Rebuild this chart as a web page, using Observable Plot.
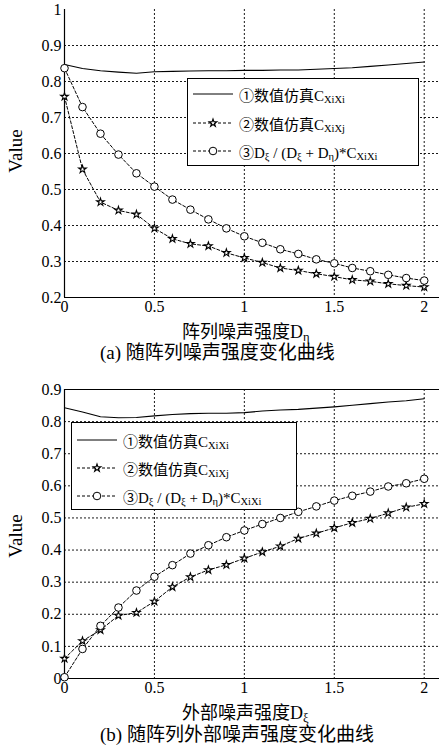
<!DOCTYPE html>
<html>
<head>
<meta charset="utf-8">
<script src="https://cdn.jsdelivr.net/npm/d3@7"></script>
<script src="https://cdn.jsdelivr.net/npm/@observablehq/plot@0.6"></script>
<style>
  body { margin: 0; background: #fff; }
  #wrap { position: relative; width: 439px; height: 756px; overflow: hidden; background: #fff;
          font-family: "Liberation Serif", "Times New Roman", "DejaVu Serif", "Noto Sans CJK SC", serif; color: #000; }
  .abs { position: absolute; white-space: nowrap; }
  .legend { position: absolute; background: #fff; border: 1px solid #000; box-sizing: border-box; }
  .row { position: absolute; left: 0; height: 20px; display: flex; align-items: center; white-space: nowrap; }
  .row svg { display: block; }
  .row span { font-size: 15px; margin-left: 6px; }
  sub { font-size: 0.7em; vertical-align: -0.2em; line-height: 0; }
  .xtitle { font-size: 18px; line-height: 18px; }
  .cap { font-size: 19px; line-height: 22px; }
  .ylab { font-size: 19px; transform: rotate(-90deg); transform-origin: center center; }
  svg text { font-family: "Liberation Serif", "Times New Roman", "DejaVu Serif", serif; }
</style>
</head>
<body>
<div id="wrap"></div>
<script>
// ---- data ----
const noise = [0,0.1,0.2,0.3,0.4,0.5,0.6,0.7,0.8,0.9,1.0,1.1,1.2,1.3,1.4,1.5,1.6,1.7,1.8,1.9,2.0];

// (a) vs array noise D_eta
const aSimXiXi = [0.847,0.836,0.830,0.826,0.823,0.827,0.828,0.829,0.830,0.830,0.831,0.831,0.832,0.832,0.834,0.836,0.838,0.842,0.846,0.850,0.854];
const aSimXiXj = [0.758,0.556,0.465,0.442,0.431,0.392,0.363,0.349,0.343,0.324,0.310,0.297,0.282,0.275,0.266,0.258,0.249,0.245,0.238,0.233,0.229];
const aRatio   = [0.837,0.729,0.655,0.597,0.545,0.508,0.472,0.444,0.417,0.392,0.370,0.352,0.334,0.321,0.306,0.295,0.282,0.273,0.263,0.254,0.247];

// (b) vs external noise D_xi
const bSimXiXi = [0.843,0.830,0.815,0.812,0.813,0.818,0.822,0.825,0.826,0.826,0.828,0.833,0.836,0.838,0.842,0.846,0.851,0.856,0.861,0.865,0.871];
const bSimXiXj = [0.062,0.117,0.151,0.196,0.205,0.240,0.285,0.316,0.338,0.354,0.374,0.394,0.412,0.436,0.452,0.469,0.485,0.498,0.515,0.533,0.544];
const bRatio   = [0.004,0.092,0.164,0.221,0.274,0.317,0.353,0.389,0.415,0.440,0.461,0.481,0.500,0.519,0.536,0.554,0.569,0.582,0.598,0.608,0.622];

const xTicks = [0, 0.5, 1, 1.5, 2];
const aYTicks = [0.2,0.3,0.4,0.5,0.6,0.7,0.8,0.9,1];
const bYTicks = [0,0.1,0.2,0.3,0.4,0.5,0.6,0.7,0.8,0.9];

const legendLabels = [
  "①数值仿真C<sub>XiXi</sub>",
  "②数值仿真C<sub>XiXj</sub>",
  "③D<sub>ξ</sub> / (D<sub>ξ</sub> + D<sub>η</sub>)*C<sub>XiXi</sub>"
];

// ---- drawing ----
const fmt = d => String(+d.toFixed(2));
const wrap = document.getElementById("wrap");
const serif = '"Liberation Serif", "Times New Roman", "DejaVu Serif", serif';

function chart({sim1, sim2, ratio, yDomain, yTicks, height, marginTop, boxTop}) {
  const rows = noise.map((x, i) => ({x, s1: sim1[i], s2: sim2[i], r: ratio[i]}));
  const gridY = yTicks.filter(v => v !== yDomain[0] && v !== yDomain[1]);
  const gridX = xTicks.filter(v => v !== 0);
  const marks = [
    Plot.gridX(gridX, {stroke: "#000", strokeOpacity: 0.9, strokeDasharray: "2,2", strokeWidth: 1}),
    Plot.gridY(gridY, {stroke: "#000", strokeOpacity: 0.9, strokeDasharray: "2,2", strokeWidth: 1}),
    Plot.ruleX([0], {stroke: "#000", strokeWidth: 1.2}),
    Plot.ruleY([yDomain[0]], {stroke: "#000", strokeWidth: 1.2}),
    Plot.axisX(xTicks, {tickSize: 0, tickPadding: 3, tickFormat: fmt, fontSize: 16, fontFamily: serif}),
    Plot.axisY(yTicks, {tickSize: 0, tickPadding: 3, tickFormat: fmt, fontSize: 16, fontFamily: serif}),
    Plot.line(rows, {x: "x", y: "s1", stroke: "#000", strokeWidth: 1.1}),
    Plot.line(rows, {x: "x", y: "s2", stroke: "#000", strokeWidth: 1, strokeDasharray: "3,2"}),
    Plot.line(rows, {x: "x", y: "r", stroke: "#000", strokeWidth: 1, strokeDasharray: "3,2"}),
    Plot.dot(rows, {x: "x", y: "s2", symbol: "star", r: 2.4, stroke: "#000", fill: "#fff", strokeWidth: 1.1}),
    Plot.dot(rows, {x: "x", y: "r", symbol: "circle", r: 3.8, stroke: "#000", fill: "#fff", strokeWidth: 1})
  ];
  if (boxTop) marks.push(Plot.ruleY([yDomain[1]], {stroke: "#000", strokeWidth: 1.2}));
  return Plot.plot({
    width: 439, height, marginLeft: 64, marginRight: 0, marginTop, marginBottom: 23,
    x: {domain: [0, 2.085], label: null},
    y: {domain: yDomain, label: null},
    style: {fontFamily: serif, fontSize: "16px", color: "#000", background: "transparent", overflow: "visible"},
    marks
  });
}

function place(el, left, topPx) {
  el.style.position = "absolute"; el.style.left = left + "px"; el.style.top = topPx + "px";
  wrap.appendChild(el);
}

function legend(left, topPx, width, height, rowTops) {
  const box = document.createElement("div");
  box.className = "legend";
  Object.assign(box.style, {left: left + "px", top: topPx + "px", width: width + "px", height: height + "px"});
  legendLabels.forEach((lab, i) => {
    const row = document.createElement("div");
    row.className = "row";
    row.style.top = rowTops[i] + "px";
    row.style.left = "5px";
    const dash = i === 0 ? "" : 'stroke-dasharray="3,2"';
    let marker = "";
    if (i === 1) {
      const s = d3.symbol(d3.symbolStar, 18)();
      marker = `<path d="${s}" transform="translate(20,10)" fill="#fff" stroke="#000" stroke-width="1.1"/>`;
    } else if (i === 2) {
      marker = `<circle cx="20" cy="10" r="3.8" fill="#fff" stroke="#000"/>`;
    }
    row.innerHTML = `<svg width="40" height="20"><line x1="0" x2="40" y1="10" y2="10" stroke="#000" ${dash}/>${marker}</svg><span>${lab}</span>`;
    box.appendChild(row);
  });
  wrap.appendChild(box);
}

function textDiv(cls, html, left, topPx) {
  const d = document.createElement("div");
  d.className = "abs " + cls;
  d.innerHTML = html;
  d.style.left = left + "px"; d.style.top = topPx + "px";
  wrap.appendChild(d);
  return d;
}

// top chart (a)
const chartA = chart({sim1: aSimXiXi, sim2: aSimXiXj, ratio: aRatio, yDomain: [0.2, 1], yTicks: aYTicks, height: 320, marginTop: 9, boxTop: false});
place(chartA, 0, 0);
legend(187, 78, 232, 88, [5, 34, 62]);
textDiv("xtitle", "阵列噪声强度D<sub>η</sub>", 182, 323);
textDiv("cap", "(a) 随阵列噪声强度变化曲线", 100, 342);
const y1 = textDiv("ylab", "Value", 0, 0);
y1.style.left = (15 - y1.offsetWidth / 2) + "px";
y1.style.top = (151 - y1.offsetHeight / 2) + "px";

// bottom chart (b)
const chartB = chart({sim1: bSimXiXi, sim2: bSimXiXj, ratio: bRatio, yDomain: [0, 0.9], yTicks: bYTicks, height: 331, marginTop: 19, boxTop: true});
place(chartB, 0, 370);
legend(71, 422, 226, 88, [7, 35, 63]);
textDiv("xtitle", "外部噪声强度D<sub>ξ</sub>", 182, 704);
textDiv("cap", "(b) 随阵列外部噪声强度变化曲线", 100, 724);
const y2 = textDiv("ylab", "Value", 0, 0);
y2.style.left = (15 - y2.offsetWidth / 2) + "px";
y2.style.top = (536 - y2.offsetHeight / 2) + "px";
</script>
</body>
</html>
